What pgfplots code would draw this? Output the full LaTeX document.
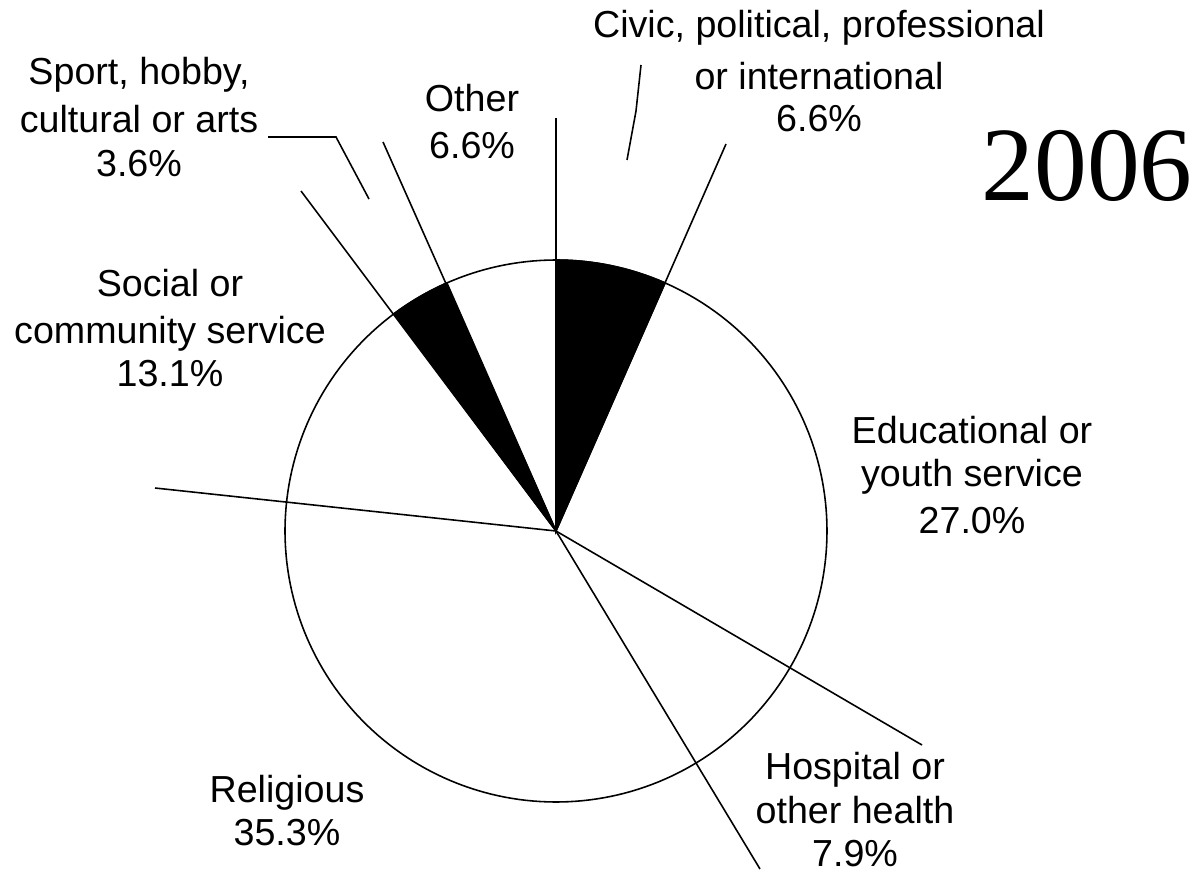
\documentclass[border=0pt]{standalone}
\usepackage{fontspec}
\setmainfont{Liberation Sans}
\newfontfamily\yearfont{Liberation Serif}
\usepackage{pgfplots}
\pgfplotsset{compat=1.18}
% Shares (percent), clockwise from 12 o'clock:
% Civic 6.6, Educational 27.0, Hospital 7.9, Religious 35.3, Social 13.1, Sport 3.6, Other 6.6
% boundary angles (deg): 90, 66.26, -30.84, -59.25, 173.80, 126.69, 113.74
\begin{document}
\begin{tikzpicture}
\begin{axis}[
  x=0.01cm, y=0.01cm,
  xmin=-556, xmax=638, ymin=-341, ymax=531,
  axis line style={draw=none}, xtick=\empty, ytick=\empty,
  clip=false,
  every axis plot/.append style={line width=0.45pt, black},
  nodes={font=\fontsize{10.7pt}{12.5pt}\selectfont, inner sep=0pt},
]
% pie outline (radius 271)
\addplot[domain=0:360, samples=240, no marks] ({271*cos(x)},{271*sin(x)});
% black wedges: Civic (6.6%) and Sport (3.6%)
\addplot[fill=black, draw=black, domain=66.26:90, samples=40, no marks] ({271*cos(x)},{271*sin(x)}) -- (axis cs:0,0) -- cycle;
\addplot[fill=black, draw=black, domain=113.74:126.69, samples=30, no marks] ({271*cos(x)},{271*sin(x)}) -- (axis cs:0,0) -- cycle;
% radial boundary lines extended as leaders
\addplot[no marks] coordinates {(0,0) (0,413)};
\addplot[no marks] coordinates {(0,0) (170,387)};
\addplot[no marks] coordinates {(0,0) (366,-214)};
\addplot[no marks] coordinates {(0,0) (204,-338)};
\addplot[no marks] coordinates {(0,0) (-401,43)};
\addplot[no marks] coordinates {(0,0) (-255,340)};
\addplot[no marks] coordinates {(0,0) (-173,389)};
% extra leader lines
\addplot[no marks] coordinates {(-288,394) (-220,394) (-187,332)};
\addplot[no marks] coordinates {(85,466) (80,420) (71,371)};
% labels
\node[anchor=base] at (axis cs:-417,446) {Sport, hobby,};
\node[anchor=base] at (axis cs:-417,398) {cultural or arts};
\node[anchor=base] at (axis cs:-417,354) {3.6\%};
\node[anchor=base] at (axis cs:-84,419) {Other};
\node[anchor=base] at (axis cs:-84,372) {6.6\%};
\node[anchor=base] at (axis cs:263,493) {Civic, political, professional};
\node[anchor=base] at (axis cs:263,441) {or international};
\node[anchor=base] at (axis cs:263,399) {6.6\%};
\node[anchor=base] at (axis cs:-386,234) {Social or};
\node[anchor=base] at (axis cs:-386,188) {community service};
\node[anchor=base] at (axis cs:-386,145) {13.1\%};
\node[anchor=base] at (axis cs:416,88) {Educational or};
\node[anchor=base] at (axis cs:416,45) {youth service};
\node[anchor=base] at (axis cs:416,-2) {27.0\%};
\node[anchor=base] at (axis cs:-269,-271) {Religious};
\node[anchor=base] at (axis cs:-269,-314) {35.3\%};
\node[anchor=base] at (axis cs:299,-248) {Hospital or};
\node[anchor=base] at (axis cs:299,-292) {other health};
\node[anchor=base] at (axis cs:299,-335) {7.9\%};
\node[anchor=base, font=\yearfont\fontsize{30pt}{32pt}\selectfont] at (axis cs:531,331) {2006};
\end{axis}
\end{tikzpicture}
\end{document}
